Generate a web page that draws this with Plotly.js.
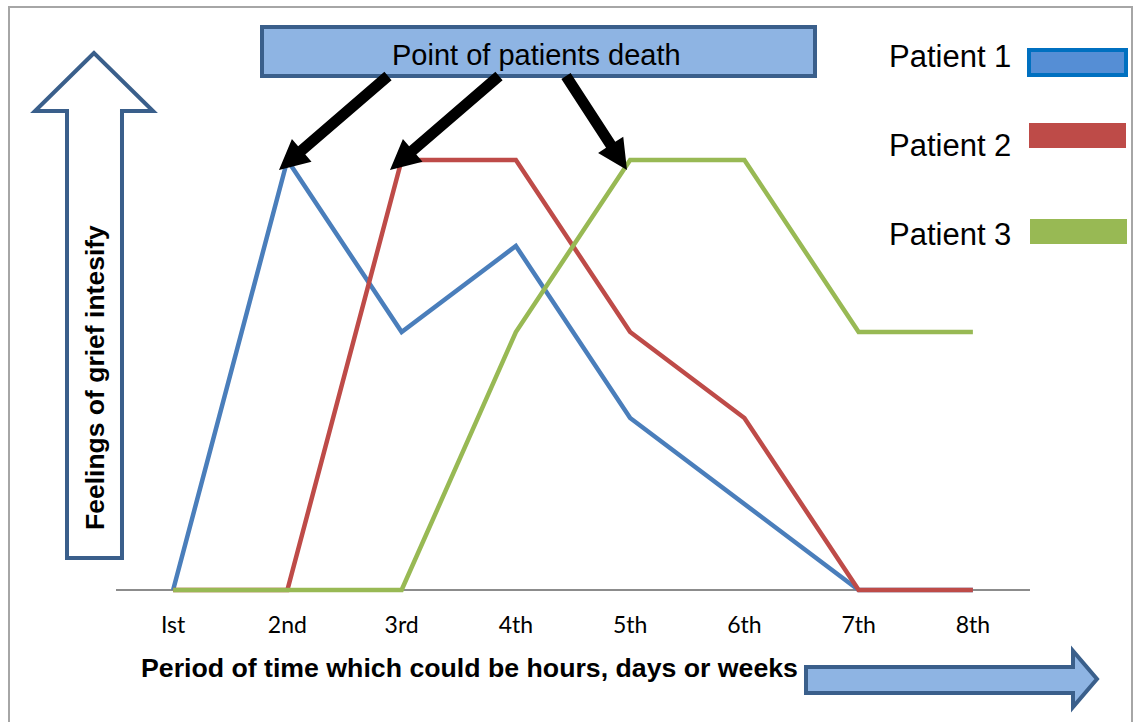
<!DOCTYPE html>
<html>
<head>
<meta charset="utf-8">
<script src="https://cdn.plot.ly/plotly-3.0.1.min.js"></script>
<style>
html,body{margin:0;padding:0;background:#fff;}
#chart{width:1133px;height:722px;}
</style>
</head>
<body>
<div id="chart"></div>
<script>
// ---- data ----
const categories = ['Ist', '2nd', '3rd', '4th', '5th', '6th', '7th', '8th'];
const patient1 = [0, 5, 3, 4, 2, 1, 0, 0];
const patient2 = [0, 0, 5, 5, 3, 2, 0, 0];
const patient3 = [0, 0, 0, 3, 5, 5, 3, 3];
const seriesNames = ['Patient 1', 'Patient 2', 'Patient 3'];
const seriesValues = [patient1, patient2, patient3];
const seriesColors = ['#4A7EBB', '#BE4B48', '#98B954'];
const titleText = 'Point of patients death';
const xTitle = 'Period of time which could be hours, days or weeks';
const yTitle = 'Feelings of grief intesify';

// ---- layout geometry (pixels) ----
const W = 1133, H = 722;
const M = {l: 116, r: 103, t: 74, b: 122};
const PW = W - M.l - M.r, PH = H - M.t - M.b;
const px = X => (X - M.l) / PW;
const py = Y => (H - M.b - Y) / PH;
function poly(pts) {
  return 'M ' + pts.map(p => px(p[0]).toFixed(5) + ',' + py(p[1]).toFixed(5)).join(' L ') + ' Z';
}
function arrowPts(x1, y1, x2, y2, sw, hw, hl) {
  const dx = x2 - x1, dy = y2 - y1, L = Math.hypot(dx, dy);
  const ux = dx / L, uy = dy / L, nx = -uy, ny = ux;
  const bx = x2 - ux * hl, by = y2 - uy * hl;
  return [
    [x1 + nx * sw / 2, y1 + ny * sw / 2],
    [bx + nx * sw / 2, by + ny * sw / 2],
    [bx + nx * hw / 2, by + ny * hw / 2],
    [x2, y2],
    [bx - nx * hw / 2, by - ny * hw / 2],
    [bx - nx * sw / 2, by - ny * sw / 2],
    [x1 - nx * sw / 2, y1 - ny * sw / 2]
  ];
}

const traces = seriesValues.map((vals, i) => ({
  type: 'scatter', mode: 'lines', x: categories, y: vals, name: seriesNames[i],
  line: {color: seriesColors[i], width: 4.5}, hoverinfo: 'skip'
}));

const navy = '#3A5F8B';
const boxFill = '#8EB4E3';
const shapes = [
  // outer frame
  {type: 'rect', xref: 'paper', yref: 'paper', x0: px(9), x1: px(1132), y0: py(7), y1: py(740),
   line: {color: '#A6A6A6', width: 2}, fillcolor: 'rgba(0,0,0,0)', layer: 'below'},
  // title box
  {type: 'rect', xref: 'paper', yref: 'paper', x0: px(262), x1: px(815), y0: py(27), y1: py(76),
   line: {color: navy, width: 4}, fillcolor: boxFill},
  // death arrows
  {type: 'path', xref: 'paper', yref: 'paper', path: poly(arrowPts(388, 76, 279, 170, 11, 30, 30)),
   fillcolor: '#000', line: {width: 0}},
  {type: 'path', xref: 'paper', yref: 'paper', path: poly(arrowPts(499, 76, 390, 170, 11, 30, 30)),
   fillcolor: '#000', line: {width: 0}},
  {type: 'path', xref: 'paper', yref: 'paper', path: poly(arrowPts(566, 76, 627, 170, 11, 30, 30)),
   fillcolor: '#000', line: {width: 0}},
  // up arrow (outline)
  {type: 'path', xref: 'paper', yref: 'paper',
   path: poly([[94, 53], [35, 111], [67, 111], [67, 558], [122, 558], [122, 111], [153, 111]]),
   fillcolor: '#fff', line: {color: navy, width: 4}},
  // right arrow
  {type: 'path', xref: 'paper', yref: 'paper',
   path: poly([[806, 667], [1073, 667], [1073, 651], [1097, 679], [1073, 707], [1073, 693], [806, 693]]),
   fillcolor: boxFill, line: {color: navy, width: 4}},
  // legend swatches
  {type: 'rect', xref: 'paper', yref: 'paper', x0: px(1029), x1: px(1126), y0: py(50), y1: py(75),
   line: {color: '#0070C0', width: 4}, fillcolor: '#558ED5'},
  {type: 'rect', xref: 'paper', yref: 'paper', x0: px(1029), x1: px(1126), y0: py(123), y1: py(148),
   line: {width: 0}, fillcolor: seriesColors[1]},
  {type: 'rect', xref: 'paper', yref: 'paper', x0: px(1030), x1: px(1127), y0: py(219), y1: py(244),
   line: {width: 0}, fillcolor: seriesColors[2]}
];

const arial = 'Liberation Sans, Arial, sans-serif';
const annotations = [
  {xref: 'paper', yref: 'paper', x: px(536), y: py(55), text: titleText, showarrow: false,
   font: {family: arial, size: 29, color: '#000'}, xanchor: 'center', yanchor: 'middle'},
  {xref: 'paper', yref: 'paper', x: px(469), y: py(668), text: '<b>' + xTitle + '</b>', showarrow: false,
   font: {family: arial, size: 26.7, color: '#000'}, xanchor: 'center', yanchor: 'middle'},
  {xref: 'paper', yref: 'paper', x: px(95), y: py(378), text: '<b>' + yTitle + '</b>', showarrow: false,
   textangle: -90, font: {family: arial, size: 26.5, color: '#000'}, xanchor: 'center', yanchor: 'middle'}
];
const legendY = [57, 145, 234];
seriesNames.forEach((n, i) => annotations.push({
  xref: 'paper', yref: 'paper', x: px(887), y: py(legendY[i]), text: n, showarrow: false,
  font: {family: arial, size: 31, color: '#000'}, xanchor: 'left', yanchor: 'middle'
}));

const layout = {
  width: W, height: H, margin: M, showlegend: false,
  paper_bgcolor: '#fff', plot_bgcolor: 'rgba(0,0,0,0)',
  xaxis: {type: 'category', categoryorder: 'array', categoryarray: categories, range: [-0.5, 7.5],
    showgrid: false, zeroline: false, showline: false, ticks: '', ticklen: 0, ticklabelstandoff: 9,
    tickfont: {family: 'Lato, sans-serif', size: 23, color: '#000'}, fixedrange: true},
  yaxis: {range: [-10 / 86, 6], showgrid: false, showticklabels: false, ticks: '',
    zeroline: true, zerolinecolor: '#8C8C8C', zerolinewidth: 2, showline: false, fixedrange: true},
  shapes: shapes, annotations: annotations
};

Plotly.newPlot('chart', traces, layout, {staticPlot: true, displayModeBar: false});
</script>
</body>
</html>
